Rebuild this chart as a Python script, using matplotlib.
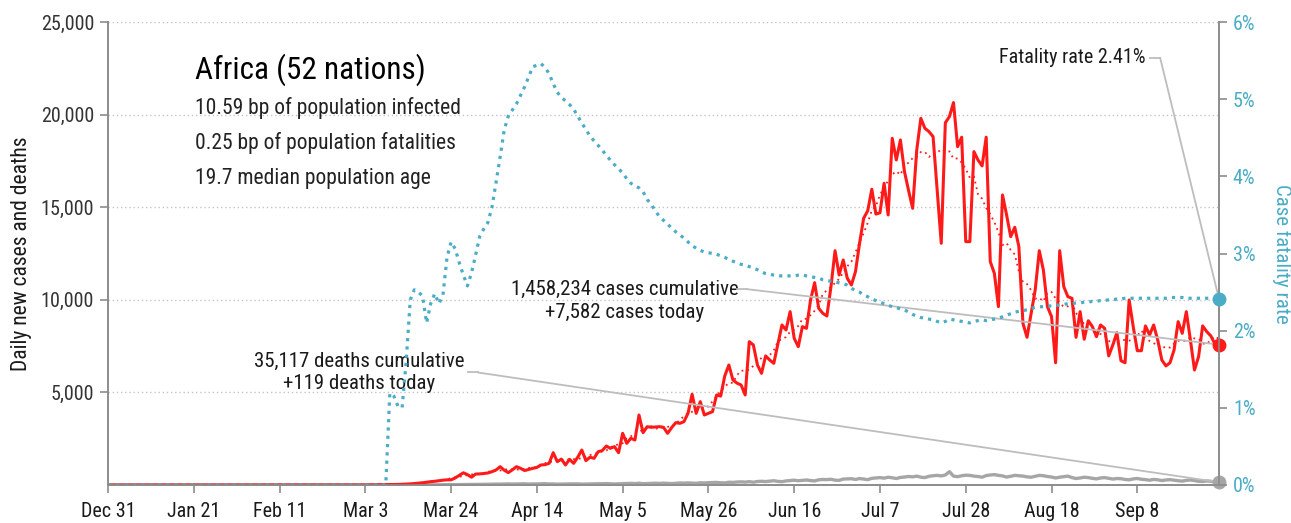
import numpy as np
import pandas as pd
import matplotlib
matplotlib.use("Agg")
import matplotlib.pyplot as plt
from matplotlib import font_manager

# narrow grotesque if we have one
names = {f.name for f in font_manager.fontManager.ttflist}
wanted = ["Roboto Condensed", "Archivo Narrow", "Liberation Sans Narrow"]
FONT = next((n for n in wanted if n in names), "DejaVu Sans")
plt.rcParams["font.family"] = [FONT, "DejaVu Sans"]

# ---- data ----
axis_start = "2019-12-31"
axis_end = "2020-09-28"

# daily new cases, one value per day from Feb 14
cases_start = "2020-02-14"
cases = [
    1, 0, 0, 0, 0, 0, 0,
    0, 0, 0, 0, 1, 1, 1,
    2, 2, 3, 2, 5, 8, 10,
    8, 12, 15, 20, 25, 30, 40,
    45, 60, 80, 95, 120, 150, 180,
    200, 230, 260, 280, 280, 380, 520,
    660, 560, 420, 590, 600, 620, 650,
    720, 810, 990, 800, 670, 820, 990,
    900, 780, 840, 900, 950, 1080, 1100,
    1170, 1745, 1260, 1400, 1080, 1385, 1170,
    1500, 1890, 1315, 1500, 1440, 1800, 1855,
    2105, 1980, 2070, 1745, 2790, 2250, 2520,
    2430, 3780, 2825, 3150, 3115, 3130, 3150,
    3115, 2790, 3100, 3365, 3330, 3420, 3870,
    4900, 3870, 4500, 3780, 3870, 3960, 4860,
    4800, 5890, 6480, 5670, 5500, 5400, 4860,
    7740, 7560, 6480, 6030, 6970, 6750, 6570,
    7600, 8640, 8370, 9360, 7920, 7470, 8550,
    8460, 9990, 10925, 9540, 9270, 9125, 10710,
    12650, 11340, 12150, 11160, 10800, 11520, 13050,
    14400, 14810, 15970, 14630, 14700, 16290, 14580,
    18720, 17550, 18630, 16920, 15900, 14940, 18090,
    19800, 19260, 19080, 18810, 15900, 13050, 19560,
    19890, 20650, 18270, 18780, 13140, 13140, 18000,
    17550, 17230, 18780, 12060, 11430, 9630, 15660,
    14580, 13410, 13915, 12870, 8730, 7975, 9270,
    10530, 12650, 11610, 9630, 9090, 6600, 12650,
    10710, 10170, 10080, 7975, 9360, 7870, 8870,
    8550, 8010, 8640, 8460, 6970, 7560, 8225,
    6710, 6600, 9990, 8550, 7250, 7250, 8590,
    8100, 8640, 7830, 6750, 6430, 6600, 7290,
    8820, 8190, 9360, 7830, 6210, 6930, 8590,
    8280, 8050, 7615, 7582,
]

# daily deaths from Mar 9
deaths_start = "2020-03-09"
deaths = [
    1, 0, 1, 2, 1, 3, 2,
    4, 3, 6, 8, 10, 12, 14,
    16, 18, 20, 24, 26, 28, 30,
    25, 32, 35, 40, 45, 50, 48,
    55, 60, 52, 58, 62, 65, 50,
    60, 58, 62, 70, 55, 60, 45,
    50, 55, 60, 58, 62, 48, 52,
    60, 65, 70, 62, 75, 68, 55,
    65, 80, 85, 90, 75, 95, 70,
    80, 90, 95, 85, 100, 90, 75,
    95, 110, 100, 115, 105, 90, 120,
    110, 125, 130, 140, 120, 110, 150,
    140, 160, 170, 155, 180, 150, 190,
    200, 185, 210, 230, 195, 180, 220,
    240, 260, 230, 250, 270, 240, 220,
    280, 300, 290, 310, 260, 250, 320,
    330, 340, 300, 350, 320, 290, 360,
    380, 400, 370, 420, 390, 350, 410,
    430, 460, 440, 480, 420, 400, 470,
    500, 520, 490, 540, 720, 480, 450,
    500, 530, 520, 480, 460, 420, 510,
    540, 560, 520, 490, 430, 470, 520,
    500, 480, 440, 420, 470, 520, 500,
    460, 430, 380, 420, 450, 480, 400,
    350, 380, 420, 400, 360, 330, 380,
    400, 360, 320, 350, 340, 300, 280,
    330, 350, 310, 290, 260, 300, 280,
    240, 270, 290, 260, 230, 210, 250,
    270, 240, 200, 190, 220, 200, 170,
    150, 119,
]

# case fatality rate in percent from Mar 9 (zero before)
cfr_start = "2020-03-09"
cfr = [
    1.19, 1.15, 1.02, 1.00, 1.60, 2.40, 2.53,
    2.50, 2.45, 2.10, 2.35, 2.48, 2.35, 2.46,
    2.95, 3.15, 3.06, 2.88, 2.72, 2.58, 2.75,
    2.98, 3.22, 3.32, 3.40, 3.60, 3.92, 4.25,
    4.60, 4.78, 4.86, 4.94, 5.05, 5.16, 5.29,
    5.42, 5.44, 5.46, 5.41, 5.33, 5.20, 5.09,
    5.02, 4.98, 4.93, 4.87, 4.78, 4.69, 4.61,
    4.52, 4.46, 4.40, 4.34, 4.27, 4.21, 4.15,
    4.10, 4.04, 3.97, 3.91, 3.88, 3.85, 3.80,
    3.70, 3.64, 3.55, 3.48, 3.43, 3.38, 3.33,
    3.28, 3.24, 3.20, 3.15, 3.10, 3.07, 3.04,
    3.02, 3.01, 3.00, 2.99, 2.97, 2.95, 2.92,
    2.90, 2.88, 2.86, 2.85, 2.83, 2.81, 2.79,
    2.76, 2.74, 2.73, 2.72, 2.71, 2.71, 2.71,
    2.71, 2.71, 2.72, 2.72, 2.71, 2.70, 2.69,
    2.68, 2.66, 2.65, 2.64, 2.63, 2.62, 2.61,
    2.59, 2.55, 2.52, 2.50, 2.46, 2.44, 2.41,
    2.39, 2.37, 2.35, 2.33, 2.31, 2.30, 2.28,
    2.27, 2.24, 2.21, 2.19, 2.17, 2.16, 2.15,
    2.14, 2.12, 2.10, 2.12, 2.15, 2.14, 2.13,
    2.12, 2.11, 2.10, 2.12, 2.13, 2.14, 2.13,
    2.14, 2.15, 2.16, 2.18, 2.20, 2.22, 2.24,
    2.25, 2.26, 2.27, 2.29, 2.30, 2.31, 2.31,
    2.32, 2.32, 2.33, 2.33, 2.34, 2.35, 2.35,
    2.36, 2.36, 2.37, 2.37, 2.38, 2.38, 2.39,
    2.39, 2.40, 2.40, 2.41, 2.41, 2.42, 2.42,
    2.42, 2.42, 2.42, 2.42, 2.42, 2.42, 2.42,
    2.42, 2.42, 2.43, 2.43, 2.43, 2.43, 2.42,
    2.42, 2.42, 2.42, 2.42, 2.42, 2.42, 2.41,
    2.41, 2.41,
]

tick_labels = ["Dec 31", "Jan 21", "Feb 11", "Mar 3", "Mar 24", "Apr 14", "May 5",
               "May 26", "Jun 16", "Jul 7", "Jul 28", "Aug 18", "Sep 8"]
left_ticks = [5000, 10000, 15000, 20000, 25000]
right_ticks = [0, 1, 2, 3, 4, 5, 6]

title = "Africa (52 nations)"
facts = ["10.59 bp of population infected",
         "0.25 bp of population fatalities",
         "19.7 median population age"]
cases_note = "1,458,234 cases cumulative\n+7,582 cases today"
deaths_note = "35,117 deaths cumulative\n+119 deaths today"
cfr_note = "Fatality rate 2.41%"

# ---- series on a full daily index ----
days = pd.date_range(axis_start, axis_end, freq="D")
s_cases = pd.Series(cases, index=pd.date_range(cases_start, periods=len(cases))).reindex(days, fill_value=0)
s_deaths = pd.Series(deaths, index=pd.date_range(deaths_start, periods=len(deaths))).reindex(days, fill_value=0)
s_cfr = pd.Series(cfr, index=pd.date_range(cfr_start, periods=len(cfr))).reindex(days, fill_value=0)
s_trend = s_cases.rolling(7, center=True, min_periods=1).mean()

RED = "#ff1a1a"
TEAL = "#4bacc6"
GREY = "#a6a6a6"
LEAD = "#bdbdbd"
SPINE = "#8c8c8c"
TXT = "#1a1a1a"

fig = plt.figure(figsize=(12.91, 5.23), dpi=100)
ax = fig.add_axes([108 / 1291, 38 / 523, 1111 / 1291, 463 / 523])
ax2 = ax.twinx()

ax.plot(days, s_deaths, color=GREY, lw=2.4, zorder=3)
ax.plot(days, s_trend, color=RED, lw=1.3, ls=(0, (1, 2.2)), zorder=3)
ax.plot(days, s_cases, color=RED, lw=2.2, zorder=4)
ax2.plot(days, s_cfr, color=TEAL, lw=2.3, ls=(0, (1, 1.6)), zorder=2)

ax.plot(days[-1], s_cases.iloc[-1], "o", color=RED, ms=9, clip_on=False, zorder=6)
ax.plot(days[-1], s_deaths.iloc[-1], "o", color=GREY, ms=9, clip_on=False, zorder=6)
ax2.plot(days[-1], s_cfr.iloc[-1], "o", color=TEAL, ms=9, clip_on=False, zorder=6)

ax.set_xlim(days[0], days[-1])
ax.set_ylim(0, 25000)
ax2.set_ylim(0, 6)

ticks = pd.date_range(axis_start, periods=len(tick_labels), freq="21D")
ax.set_xticks(ticks)
ax.set_xticklabels(tick_labels, fontsize=14.5, color=TXT)
ax.set_yticks(left_ticks)
ax.set_yticklabels([f"{v:,}" for v in left_ticks], fontsize=14.5, color="#333333")
ax2.set_yticks(right_ticks)
ax2.set_yticklabels([f"{v}%" for v in right_ticks], fontsize=14.5, color=TEAL)

for a in (ax, ax2):
    a.spines["top"].set_visible(False)
    for side in ("left", "right", "bottom"):
        a.spines[side].set_color(SPINE)
        a.spines[side].set_linewidth(1.2)
    a.tick_params(direction="out", length=6, width=1.2, color=SPINE, pad=4)
ax.tick_params(axis="x", pad=6)

ax.yaxis.grid(True, ls=(0, (1, 2)), color="#c4c4c4", lw=1)
ax.set_axisbelow(True)

ax.set_ylabel("Daily new cases and deaths", fontsize=15.5, color=TXT, labelpad=6)
ax2.set_ylabel("Case fatality rate", fontsize=15, color=TEAL, rotation=270, labelpad=26)

# headline block
ax.text(0.078, 0.896, title, transform=ax.transAxes, fontsize=22.5, color="black",
        va="center", ha="left")
for i, line in enumerate(facts):
    ax.text(0.078, 0.814 - i * 0.0756, line, transform=ax.transAxes, fontsize=15.5,
            color="#222222", va="center", ha="left")

# notes with leader lines
def note(text, tx, ty, stub_x0, stub_x1, stub_y, target, ha, size=15):
    ax.text(tx, ty, text, transform=ax.transAxes, fontsize=size, color=TXT,
            ha=ha, va="center", linespacing=1.25)
    ax.plot([stub_x0, stub_x1], [stub_y, stub_y], color=LEAD, lw=1.3,
            transform=ax.transAxes, clip_on=False, zorder=5)
    ax.annotate("", xy=target, xycoords="data", xytext=(stub_x1, stub_y),
                textcoords="axes fraction",
                arrowprops=dict(arrowstyle="-", color=LEAD, lw=1.3,
                                shrinkA=0, shrinkB=0), zorder=5)

note(cases_note, 0.465, 0.397, 0.566, 0.575, 0.423,
     (days[-1], s_cases.iloc[-1]), "center")
note(deaths_note, 0.226, 0.243, 0.324, 0.333, 0.243,
     (days[-1], s_deaths.iloc[-1]), "center")
# fatality note points at the right-axis value
fat_y = s_cfr.iloc[-1] / 6 * 25000
note(cfr_note, 0.934, 0.923, 0.938, 0.947, 0.923,
     (days[-1], fat_y), "right", size=14.5)

fig.savefig("out.png", dpi=100)
